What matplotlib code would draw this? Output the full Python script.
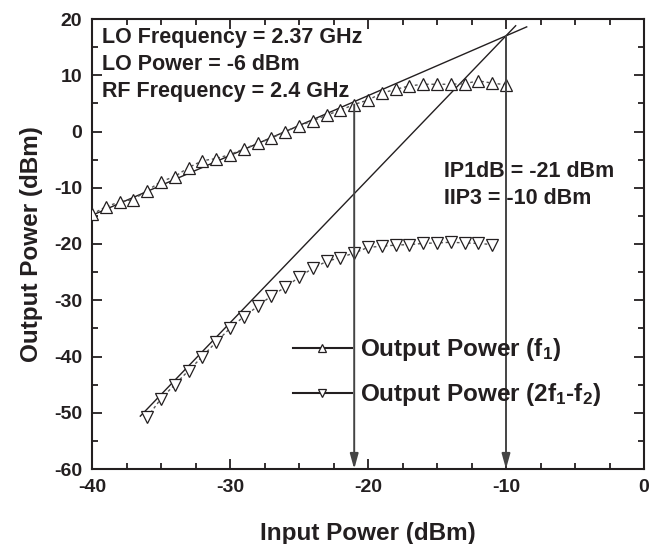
import matplotlib
matplotlib.use("Agg")
from matplotlib import pyplot as plt
from matplotlib.ticker import MultipleLocator

plt.rcParams["font.family"] = ["Liberation Sans", "DejaVu Sans"]
plt.rcParams["font.weight"] = "bold"
plt.rcParams["mathtext.fontset"] = "custom"
plt.rcParams["mathtext.rm"] = "Liberation Sans:bold"
plt.rcParams["mathtext.default"] = "rm"
plt.rcParams["axes.unicode_minus"] = False

ink = "#231f20"

# Output power at f1 (fundamental), input -40 .. -10 dBm
pin_f1 = list(range(-40, -9))
pout_f1 = [-14.7, -13.4, -12.5, -12.1, -10.5, -8.9, -8.0, -6.4, -5.2, -4.8,
           -4.1, -3.1, -2.1, -1.2, 0.0, 1.0, 1.9, 2.9, 3.8, 4.8,
           5.6, 6.8, 7.5, 8.1, 8.4, 8.4, 8.4, 8.5, 9.0, 8.6, 8.3]

# Output power at 2f1-f2 (IM3), input -36 .. -11 dBm
pin_im3 = list(range(-36, -10))
pout_im3 = [-50.8, -47.5, -45.0, -42.5, -40.0, -37.4, -35.0, -32.9, -31.1, -29.2,
            -27.7, -25.9, -24.3, -23.1, -22.4, -21.6, -20.6, -20.4, -20.2, -20.1,
            -19.9, -19.8, -19.7, -19.8, -19.9, -20.1]

# extrapolated straight lines
fit_f1_x = [-40, -8.5]
fit_f1_y = [-14.9, 18.6]
fit_im3_x = [-36.5, -9.3]
fit_im3_y = [-50.6, 18.8]

# IP1dB / IIP3 markers
arrow_x = [-21, -10]
arrow_top = [4.8, 17.0]

fig = plt.figure(figsize=(6.59, 5.44), dpi=100)
ax = fig.add_axes([92 / 659, 1 - 469 / 544, 552 / 659, 450 / 544])

ax.plot(fit_f1_x, fit_f1_y, color=ink, lw=1.0, zorder=2, clip_on=False)
ax.plot(fit_im3_x, fit_im3_y, color=ink, lw=1.0, zorder=2, clip_on=False)

ax.plot(pin_f1, pout_f1, color="#555555", lw=1.0, ls=(0, (2, 2)),
        marker="^", ms=9, mfc="white", mec=ink, mew=0.9, zorder=3,
        label="Output Power (f$_{1}$)")
ax.plot(pin_im3, pout_im3, color="#555555", lw=1.0, ls=(0, (2, 2)),
        marker="v", ms=9, mfc="white", mec=ink, mew=0.9, zorder=3,
        label="Output Power (2f$_{1}$-f$_{2}$)")

for xa, ya in zip(arrow_x, arrow_top):
    ax.annotate("", xy=(xa, -60), xytext=(xa, ya),
                arrowprops=dict(arrowstyle="-|>,head_length=0.9,head_width=0.25",
                                color="#444444", lw=1.4, shrinkA=0, shrinkB=0),
                zorder=4)

ax.set_xlim(-40, 0)
ax.set_ylim(-60, 20)
ax.xaxis.set_major_locator(MultipleLocator(10))
ax.xaxis.set_minor_locator(MultipleLocator(2.5))
ax.yaxis.set_major_locator(MultipleLocator(10))
ax.yaxis.set_minor_locator(MultipleLocator(5))
ax.tick_params(which="both", direction="in", top=True, right=True,
               colors=ink, width=1.3, labelsize=14, pad=7)
ax.tick_params(which="major", length=7)
ax.tick_params(which="minor", length=4)
for s in ax.spines.values():
    s.set_linewidth(1.5)
    s.set_color(ink)

ax.set_xlabel("Input Power (dBm)", fontsize=17.5, fontweight="bold", color=ink, labelpad=19)
ax.set_ylabel("Output Power (dBm)", fontsize=17.5, fontweight="bold", color=ink, labelpad=8)

txt = dict(fontsize=15.5, fontweight="bold", color=ink, va="center", ha="left")
ax.text(0.019, 0.96, "LO Frequency = 2.37 GHz", transform=ax.transAxes, **txt)
ax.text(0.019, 0.90, "LO Power = -6 dBm", transform=ax.transAxes, **txt)
ax.text(0.019, 0.84, "RF Frequency = 2.4 GHz", transform=ax.transAxes, **txt)
ax.text(0.637, 0.662, "IP1dB = -21 dBm", transform=ax.transAxes, **txt)
ax.text(0.637, 0.602, "IIP3 = -10 dBm", transform=ax.transAxes, **txt)

leg = ax.legend(loc="upper left", bbox_to_anchor=(0.3636, 0.295), frameon=False,
                fontsize=17.5, handlelength=2.43, handletextpad=0.33, labelspacing=0.75,
                borderpad=0, borderaxespad=0, markerscale=0.6)
for t in leg.get_texts():
    t.set_color(ink)
for h in leg.get_lines():
    h.set_linestyle("-")
    h.set_linewidth(1.5)
    h.set_color(ink)

fig.savefig("out.png", dpi=100)
